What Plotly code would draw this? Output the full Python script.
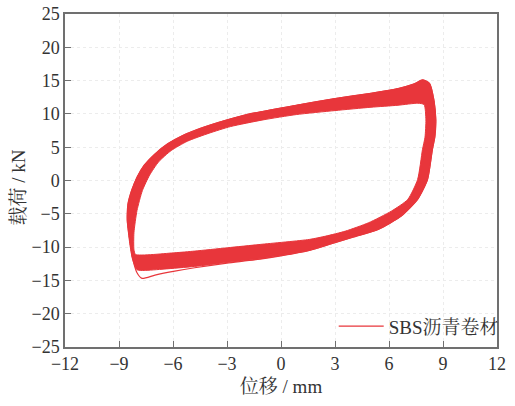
import plotly.graph_objects as go

# Hysteresis band of the SBS modified bitumen membrane under cyclic loading.
# Each loop runs: left reloading branch, upper branch (left -> right),
# right unloading branch, lower branch (right -> left).

# Outer edge of the dense band of cycles (displacement mm, load kN)
outer_disp = [-8.54, -8.50, -8.30, -8.00, -7.60, -7.00, -6.30, -5.35, -4.40, -3.50,
              -1.90, 0.85, 3.00, 5.00, 6.50, 7.40, 7.86, 8.25, 8.50, 8.60,
              8.55, 8.41, 8.14, 7.59, 6.68, 5.40, 4.00, 2.80, 1.57, -1.16,
              -3.00, -4.80, -6.50, -7.60, -8.00, -8.25, -8.40, -8.54]
outer_load = [-6.00, -3.50, -1.50, 0.50, 2.30, 4.00, 5.50, 6.90, 7.90, 8.70,
              9.90, 11.30, 12.30, 13.10, 13.80, 14.50, 15.10, 14.60, 12.00, 9.10,
              6.60, 4.65, 0.15, -2.85, -5.35, -7.35, -8.50, -9.50, -10.50, -11.75,
              -12.30, -12.90, -13.30, -13.50, -13.40, -11.80, -9.50, -6.00]

# Inner edge of the band
inner_disp = [-8.17, -8.00, -7.70, -7.30, -6.80, -6.10, -5.20, -4.00, -2.80, -1.00,
              0.85, 3.00, 5.00, 6.50, 7.60, 7.95, 8.05, 8.00, 7.86, 7.59,
              7.04, 6.13, 4.86, 3.58, 2.49, 1.57, -1.16, -2.98, -4.80, -5.90,
              -8.08, -8.17, -8.17]
inner_load = [-7.85, -4.50, -1.50, 0.80, 2.80, 4.50, 5.90, 7.10, 8.10, 9.10,
              9.90, 10.50, 11.00, 11.30, 11.60, 11.40, 9.10, 6.50, 4.65, 0.15,
              -2.85, -4.60, -6.35, -7.60, -8.35, -8.85, -9.60, -10.10, -10.60, -10.85,
              -11.10, -10.35, -7.85]

# Outermost single cycle, standing apart from the band at the lower-left corner
first_disp = [-8.54, -8.50, -8.30, -8.00, -7.60, -7.00, -6.30, -5.35, -4.40, -3.50,
              -1.90, 0.85, 3.00, 5.00, 6.50, 7.40, 7.86, 8.25, 8.50, 8.60,
              8.55, 8.41, 8.14, 7.59, 6.68, 5.40, 4.00, 2.80, 1.57, -1.16,
              -3.00, -4.80, -5.90, -7.00, -7.72, -8.00, -8.27, -8.40, -8.54]
first_load = [-6.00, -3.50, -1.50, 0.50, 2.30, 4.00, 5.50, 6.90, 7.90, 8.70,
              9.90, 11.30, 12.30, 13.10, 13.80, 14.50, 15.10, 14.60, 12.00, 9.10,
              6.60, 4.65, 0.15, -2.85, -5.35, -7.35, -8.50, -9.50, -10.50, -11.80,
              -12.40, -13.10, -13.60, -14.20, -14.70, -13.85, -11.35, -9.00, -6.00]

x_ticks = [-12, -9, -6, -3, 0, 3, 6, 9, 12]
y_ticks = [-25, -20, -15, -10, -5, 0, 5, 10, 15, 20, 25]

RED = "#e8363b"
SERIF = "Liberation Serif, Noto Serif CJK SC, Noto Sans CJK SC, serif"
TEXT = "#333333"

fig = go.Figure()
fig.add_trace(go.Scatter(x=inner_disp, y=inner_load, mode="lines",
                         line=dict(color=RED, width=1, shape="spline", smoothing=0.6),
                         showlegend=False, hoverinfo="skip", legendgroup="sbs"))
fig.add_trace(go.Scatter(x=outer_disp, y=outer_load, mode="lines", fill="tonext",
                         fillcolor=RED,
                         line=dict(color=RED, width=1, shape="spline", smoothing=0.6),
                         showlegend=False, hoverinfo="skip", legendgroup="sbs"))
fig.add_trace(go.Scatter(x=first_disp, y=first_load, mode="lines",
                         line=dict(color=RED, width=1.2, shape="spline", smoothing=0.6),
                         name="SBS沥青卷材", legendgroup="sbs"))

axis_common = dict(
    showline=True, linecolor="#707070", linewidth=1.5, mirror=True,
    ticks="inside", ticklen=6, tickwidth=1.2, tickcolor="#707070",
    showgrid=True, gridcolor="#ececec", gridwidth=1, griddash="dot",
    zeroline=False, automargin=False,
    tickfont=dict(family=SERIF, size=18, color=TEXT),
)

fig.update_xaxes(range=[-12, 12], tickvals=x_ticks,
                 title=dict(text="位移 / mm", font=dict(family=SERIF, size=19, color=TEXT),
                            standoff=6),
                 **axis_common)
fig.update_yaxes(range=[-25, 25], tickvals=y_ticks, **axis_common)

fig.update_layout(
    width=515, height=406,
    margin=dict(l=65, r=11, t=14, b=59),
    paper_bgcolor="white", plot_bgcolor="white",
    legend=dict(x=0.622, y=0.005, xanchor="left", yanchor="bottom",
                bgcolor="rgba(0,0,0,0)", itemwidth=45,
                font=dict(family=SERIF, size=19, color=TEXT)),
    annotations=[dict(text="载荷 / kN", textangle=-90, showarrow=False,
                      xref="paper", yref="paper", x=-0.108, y=0.48,
                      xanchor="center", yanchor="middle",
                      font=dict(family=SERIF, size=19, color=TEXT))],
)

fig.write_html("out.html")
